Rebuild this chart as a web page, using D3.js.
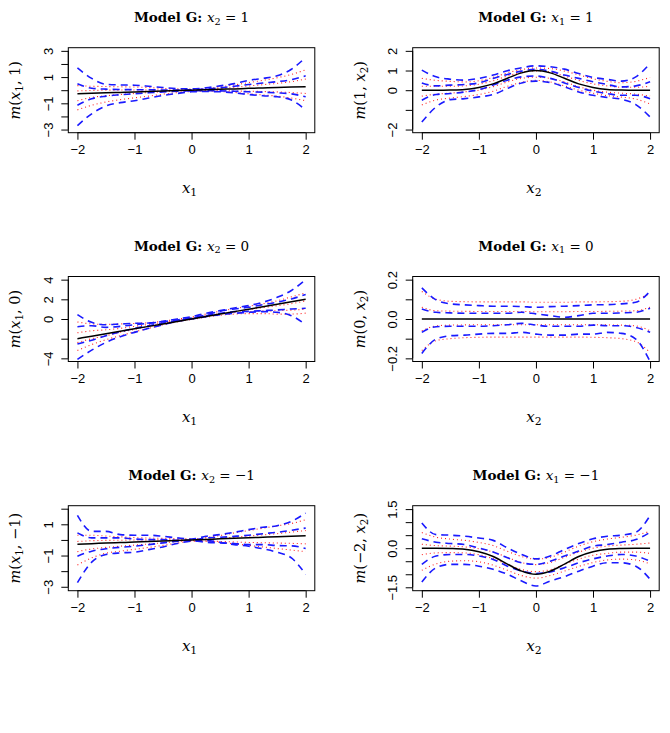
<!DOCTYPE html>
<html>
<head>
<meta charset="utf-8">
<script src="https://cdn.jsdelivr.net/npm/d3@7"></script>
<style>
  body { margin: 0; background: #fff; }
</style>
</head>
<body>
<div id="chart"></div>
<script>
// grid of x positions the curves were read at
var xGrid = [-2, -1.75, -1.5, -1.25, -1, -0.75, -0.5, -0.25, 0, 0.25, 0.5, 0.75, 1, 1.25, 1.5, 1.75, 2];
var xTicks = [-2, -1, 0, 1, 2];
var xTickLabels = ["\u22122", "\u22121", "0", "1", "2"];

// panel 1: x2 = 1
var p1Truth = [-0.27, -0.24, -0.2, -0.17, -0.14, -0.1, -0.07, -0.03, 0, 0.03, 0.07, 0.1, 0.14, 0.17, 0.2, 0.24, 0.27];
var p1Blue = [
  [1.7, 0.9, 0.45, 0.4, 0.38, 0.3, 0.2, 0.12, 0.1, 0.18, 0.33, 0.5, 0.75, 0.9, 1.1, 1.6, 2.5],
  [0.5, 0.15, 0.08, 0.05, 0.04, 0.03, 0.02, 0.02, 0.04, 0.1, 0.18, 0.3, 0.43, 0.55, 0.65, 0.8, 1.1],
  [-1.15, -0.65, -0.45, -0.35, -0.27, -0.2, -0.13, -0.08, -0.05, -0.04, -0.05, -0.08, -0.12, -0.15, -0.2, -0.28, -0.5],
  [-2.7, -1.8, -1.2, -0.95, -0.8, -0.6, -0.4, -0.25, -0.12, -0.1, -0.12, -0.2, -0.33, -0.42, -0.5, -0.75, -1.5]
];
var p1Red = [
  [0.35, 0.3, 0.28, 0.26, 0.24, 0.2, 0.14, 0.1, 0.08, 0.14, 0.25, 0.4, 0.58, 0.75, 0.95, 1.2, 1.55],
  [-0.05, -0.02, 0, 0.01, 0.02, 0.02, 0.02, 0.02, 0.03, 0.07, 0.13, 0.22, 0.32, 0.42, 0.52, 0.65, 0.85],
  [-0.8, -0.55, -0.42, -0.33, -0.25, -0.18, -0.12, -0.07, -0.04, -0.03, -0.04, -0.06, -0.08, -0.1, -0.13, -0.18, -0.25],
  [-1.5, -1.15, -0.9, -0.72, -0.58, -0.45, -0.3, -0.18, -0.1, -0.08, -0.1, -0.17, -0.27, -0.36, -0.45, -0.6, -0.8]
];

// panel 2: x1 = 1
var p2Truth = [0, 0, 0.01, 0.04, 0.14, 0.32, 0.61, 0.88, 1, 0.88, 0.61, 0.32, 0.14, 0.04, 0.01, 0, 0];
var p2Blue = [
  [1.02, 0.68, 0.56, 0.51, 0.6, 0.77, 0.99, 1.14, 1.24, 1.19, 1.07, 0.85, 0.65, 0.55, 0.46, 0.68, 1.36],
  [0.37, 0.22, 0.26, 0.29, 0.37, 0.6, 0.8, 0.97, 1.06, 0.97, 0.77, 0.6, 0.43, 0.29, 0.17, 0.22, 0.43],
  [-0.51, -0.22, -0.17, -0.09, 0.03, 0.26, 0.51, 0.68, 0.72, 0.6, 0.37, 0.14, -0.05, -0.17, -0.26, -0.26, -0.43],
  [-1.62, -0.85, -0.48, -0.43, -0.34, -0.22, 0.09, 0.37, 0.46, 0.39, 0.17, -0.09, -0.26, -0.37, -0.46, -0.73, -1.36]
];
var p2Red = [
  [0.6, 0.5, 0.45, 0.42, 0.48, 0.65, 0.88, 1.05, 1.13, 1.1, 0.97, 0.78, 0.58, 0.45, 0.38, 0.45, 0.65],
  [0.2, 0.2, 0.2, 0.22, 0.3, 0.48, 0.72, 0.9, 0.98, 0.92, 0.72, 0.5, 0.32, 0.22, 0.15, 0.15, 0.2],
  [-0.3, -0.2, -0.15, -0.08, 0, 0.18, 0.42, 0.6, 0.66, 0.6, 0.42, 0.18, 0, -0.1, -0.15, -0.2, -0.3],
  [-0.75, -0.5, -0.4, -0.32, -0.22, -0.05, 0.2, 0.4, 0.5, 0.42, 0.22, 0, -0.15, -0.28, -0.35, -0.45, -0.7]
];

// panel 3: x2 = 0
var p3Truth = [-2, -1.75, -1.5, -1.25, -1, -0.75, -0.5, -0.25, 0, 0.25, 0.5, 0.75, 1, 1.25, 1.5, 1.75, 2];
var p3Blue = [
  [0.44, -0.34, -0.58, -0.51, -0.44, -0.41, -0.24, 0, 0.24, 0.58, 0.85, 1.12, 1.36, 1.7, 2.2, 2.9, 4.0],
  [-0.78, -0.68, -0.85, -0.75, -0.58, -0.44, -0.27, -0.1, 0.1, 0.41, 0.78, 1.02, 1.19, 1.46, 1.7, 2.04, 2.49],
  [-2.55, -2.15, -1.7, -1.3, -0.95, -0.68, -0.41, -0.17, 0.07, 0.34, 0.58, 0.75, 0.78, 0.85, 0.92, 1.02, 1.09],
  [-4.1, -3.17, -2.38, -1.8, -1.36, -0.95, -0.58, -0.24, 0, 0.24, 0.44, 0.58, 0.68, 0.75, 0.68, 0.34, -0.58]
];
var p3Red = [
  [-0.3, -0.5, -0.55, -0.5, -0.45, -0.38, -0.22, -0.02, 0.2, 0.5, 0.8, 1.05, 1.3, 1.55, 1.85, 2.25, 2.65],
  [-1.4, -1.2, -1.1, -0.95, -0.75, -0.55, -0.35, -0.12, 0.08, 0.32, 0.55, 0.75, 0.95, 1.15, 1.35, 1.55, 1.85],
  [-2.4, -2.0, -1.7, -1.35, -1.05, -0.75, -0.45, -0.2, 0, 0.25, 0.48, 0.65, 0.75, 0.8, 0.85, 0.9, 1.0],
  [-3.2, -2.6, -2.1, -1.7, -1.3, -0.95, -0.6, -0.3, -0.05, 0.18, 0.38, 0.5, 0.55, 0.55, 0.5, 0.5, 0.6]
];

// panel 4: x1 = 0
var p4Truth = [0, 0, 0, 0, 0, 0, 0, 0, 0, 0, 0, 0, 0, 0, 0, 0, 0];
var p4Blue = [
  [0.158, 0.097, 0.077, 0.072, 0.068, 0.065, 0.065, 0.063, 0.06, 0.063, 0.065, 0.068, 0.072, 0.073, 0.077, 0.085, 0.141],
  [0.051, 0.034, 0.031, 0.029, 0.029, 0.029, 0.029, 0.034, 0.026, 0.017, 0.009, 0.017, 0.029, 0.029, 0.031, 0.034, 0.055],
  [-0.068, -0.039, -0.037, -0.037, -0.037, -0.034, -0.029, -0.022, -0.031, -0.037, -0.037, -0.037, -0.031, -0.034, -0.034, -0.043, -0.068],
  [-0.175, -0.102, -0.085, -0.082, -0.077, -0.073, -0.073, -0.068, -0.077, -0.082, -0.082, -0.077, -0.077, -0.068, -0.073, -0.102, -0.216]
];
var p4Red = [
  [0.14, 0.1, 0.09, 0.088, 0.087, 0.087, 0.087, 0.087, 0.085, 0.085, 0.085, 0.087, 0.087, 0.088, 0.09, 0.1, 0.13],
  [0.06, 0.042, 0.04, 0.039, 0.038, 0.038, 0.038, 0.038, 0.037, 0.037, 0.037, 0.038, 0.038, 0.039, 0.04, 0.042, 0.06],
  [-0.06, -0.035, -0.031, -0.03, -0.029, -0.029, -0.029, -0.029, -0.029, -0.029, -0.029, -0.029, -0.029, -0.03, -0.031, -0.035, -0.06],
  [-0.16, -0.11, -0.1, -0.095, -0.093, -0.092, -0.092, -0.092, -0.092, -0.092, -0.092, -0.092, -0.093, -0.095, -0.1, -0.115, -0.17]
];

// panel 5: x2 = -1
var p5Truth = [-0.27, -0.24, -0.2, -0.17, -0.14, -0.1, -0.07, -0.03, 0, 0.03, 0.07, 0.1, 0.14, 0.17, 0.2, 0.24, 0.27];
var p5Blue = [
  [1.57, 0.55, 0.55, 0.34, 0.3, 0.3, 0.23, 0.13, 0.06, 0.23, 0.34, 0.49, 0.66, 0.81, 0.91, 1.19, 1.72],
  [0.45, 0.13, 0.13, 0.13, 0.06, 0.02, 0.02, -0.02, -0.02, 0.13, 0.17, 0.23, 0.3, 0.4, 0.49, 0.62, 0.76],
  [-1.04, -0.72, -0.57, -0.47, -0.4, -0.3, -0.19, -0.08, -0.04, -0.15, -0.19, -0.23, -0.3, -0.3, -0.36, -0.38, -0.55],
  [-2.74, -1.42, -0.93, -0.83, -0.79, -0.62, -0.45, -0.23, -0.08, -0.04, -0.15, -0.3, -0.4, -0.57, -0.79, -1.15, -2.2]
];
var p5Red = [
  [0.3, 0.3, 0.25, 0.2, 0.15, 0.12, 0.1, 0.08, 0.07, 0.15, 0.28, 0.45, 0.6, 0.75, 0.9, 1.05, 1.3],
  [-0.1, -0.05, -0.03, -0.02, 0, 0, 0, 0, 0, 0.05, 0.1, 0.17, 0.25, 0.32, 0.4, 0.5, 0.6],
  [-0.75, -0.58, -0.48, -0.4, -0.33, -0.26, -0.18, -0.1, -0.05, -0.07, -0.1, -0.13, -0.16, -0.18, -0.2, -0.22, -0.25],
  [-1.6, -1.15, -0.85, -0.72, -0.6, -0.48, -0.35, -0.2, -0.08, -0.08, -0.15, -0.25, -0.35, -0.45, -0.55, -0.65, -0.75]
];

// panel 6: x1 = -1
var p6Truth = [0, 0, -0.01, -0.04, -0.14, -0.32, -0.61, -0.88, -1, -0.88, -0.61, -0.32, -0.14, -0.04, -0.01, 0, 0];
var p6Blue = [
  [0.97, 0.52, 0.5, 0.46, 0.39, 0.3, 0.01, -0.24, -0.41, -0.3, -0.05, 0.18, 0.36, 0.46, 0.5, 0.61, 1.25],
  [0.36, 0.23, 0.18, 0.14, 0.01, -0.15, -0.37, -0.56, -0.62, -0.5, -0.3, -0.11, 0.08, 0.14, 0.23, 0.33, 0.61],
  [-0.62, -0.3, -0.24, -0.24, -0.3, -0.43, -0.69, -0.88, -0.97, -0.91, -0.75, -0.56, -0.41, -0.3, -0.24, -0.3, -0.5],
  [-1.3, -0.75, -0.62, -0.62, -0.69, -0.81, -1.0, -1.26, -1.45, -1.26, -1.09, -0.88, -0.69, -0.56, -0.56, -0.69, -1.19]
];
var p6Red = [
  [0.6, 0.42, 0.35, 0.3, 0.22, 0.1, -0.12, -0.32, -0.42, -0.35, -0.15, 0.08, 0.25, 0.35, 0.42, 0.5, 0.65],
  [0.15, 0.1, 0.08, 0.05, -0.02, -0.15, -0.35, -0.55, -0.63, -0.55, -0.35, -0.15, 0, 0.08, 0.12, 0.15, 0.2],
  [-0.25, -0.18, -0.17, -0.18, -0.25, -0.4, -0.62, -0.82, -0.9, -0.82, -0.62, -0.42, -0.27, -0.2, -0.15, -0.15, -0.2],
  [-0.85, -0.6, -0.5, -0.48, -0.52, -0.65, -0.85, -1.05, -1.15, -1.05, -0.88, -0.7, -0.55, -0.45, -0.42, -0.45, -0.6]
];

// y ranges of the data and the axis ticks
var yRanges = [[-3, 3], [-2, 2], [-4, 4], [-0.2, 0.2], [-3.05, 1.99], [-1.51, 1.51]];
var yTicks = [
  [-3, -2, -1, 0, 1, 2, 3],
  [-2, -1, 0, 1, 2],
  [-4, -2, 0, 2, 4],
  [-0.2, -0.1, 0, 0.1, 0.2],
  [-3, -2, -1, 0, 1, 2],
  [-1.5, -1, -0.5, 0, 0.5, 1, 1.5]
];
var yTickLabels = [
  ["\u22123", "", "\u22121", "", "1", "", "3"],
  ["\u22122", "", "0", "1", "2"],
  ["\u22124", "", "0", "2", "4"],
  ["\u22120.2", "", "0.0", "", "0.2"],
  ["\u22123", "", "\u22121", "", "1", ""],
  ["\u22121.5", "", "", "0.0", "", "", "1.5"]
];

// text pieces: [text, kind]  kind: "b" bold, "i" italic, "s" subscript, "" plain
var titles = [
  [["Model G: ", "b"], ["x", "i"], ["2", "s"], [" = 1", ""]],
  [["Model G: ", "b"], ["x", "i"], ["1", "s"], [" = 1", ""]],
  [["Model G: ", "b"], ["x", "i"], ["2", "s"], [" = 0", ""]],
  [["Model G: ", "b"], ["x", "i"], ["1", "s"], [" = 0", ""]],
  [["Model G: ", "b"], ["x", "i"], ["2", "s"], [" = \u22121", ""]],
  [["Model G: ", "b"], ["x", "i"], ["1", "s"], [" = \u22121", ""]]
];
var yTitles = [
  [["m", "i"], ["(", ""], ["x", "i"], ["1", "s"], [", 1)", ""]],
  [["m", "i"], ["(1, ", ""], ["x", "i"], ["2", "s"], [")", ""]],
  [["m", "i"], ["(", ""], ["x", "i"], ["1", "s"], [", 0)", ""]],
  [["m", "i"], ["(0, ", ""], ["x", "i"], ["2", "s"], [")", ""]],
  [["m", "i"], ["(", ""], ["x", "i"], ["1", "s"], [", \u22121)", ""]],
  [["m", "i"], ["(\u22122, ", ""], ["x", "i"], ["2", "s"], [")", ""]]
];
var xTitles = [
  [["x", "i"], ["1", "s"]], [["x", "i"], ["2", "s"]],
  [["x", "i"], ["1", "s"]], [["x", "i"], ["2", "s"]],
  [["x", "i"], ["1", "s"]], [["x", "i"], ["2", "s"]]
];

var truths = [p1Truth, p2Truth, p3Truth, p4Truth, p5Truth, p6Truth];
var blues = [p1Blue, p2Blue, p3Blue, p4Blue, p5Blue, p6Blue];
var reds = [p1Red, p2Red, p3Red, p4Red, p5Red, p6Red];

(function () {
    var W = 670, H = 733;
    var colLeft = [68.3, 412.7];
    var rowTop = [47.7, 276.5, 505.7];
    var pw = 246.5, ph = 85;
    var serif = "'DejaVu Serif', serif";
    var sans = "'Liberation Sans', Arial, sans-serif";

    var svg = d3.select("#chart").append("svg")
        .attr("width", W)
        .attr("height", H)
        .style("background", "#fff");

    // R style 4% padding on both ends
    function pad(r) {
        var d = (r[1] - r[0]) * 0.04;
        return [r[0] - d, r[1] + d];
    }

    function mathText(sel, parts) {
        var wasSub = false;
        parts.forEach(function (p) {
            var t = sel.append("tspan").text(p[0]);
            if (p[1] === "b") { t.attr("font-weight", "bold"); }
            if (p[1] === "i") { t.attr("font-style", "italic"); }
            if (p[1] === "s") {
                t.attr("font-size", "0.72em").attr("dy", "0.3em");
                wasSub = true;
            } else if (wasSub) {
                t.attr("dy", "-0.216em");
                wasSub = false;
            }
        });
    }

    for (var k = 0; k < 6; k++) {
        var ox = colLeft[k % 2], oy = rowTop[Math.floor(k / 2)];
        var g = svg.append("g").attr("transform", "translate(" + ox + "," + oy + ")");

        var x = d3.scaleLinear().domain(pad([-2, 2])).range([0, pw]);
        var y = d3.scaleLinear().domain(pad(yRanges[k])).range([ph, 0]);

        g.append("clipPath").attr("id", "clip" + k)
            .append("rect").attr("width", pw).attr("height", ph);

        var line = d3.line()
            .x(function (d, i) { return x(xGrid[i]); })
            .y(function (d) { return y(d); })
            .curve(d3.curveMonotoneX);

        var plot = g.append("g").attr("clip-path", "url(#clip" + k + ")");

        plot.selectAll("path.red")
            .data(reds[k])
            .enter()
            .append("path")
            .attr("class", "red")
            .attr("d", line)
            .attr("fill", "none")
            .attr("stroke", "#ff2020")
            .attr("stroke-width", 1.1)
            .attr("stroke-dasharray", "1,3");

        plot.selectAll("path.blue")
            .data(blues[k])
            .enter()
            .append("path")
            .attr("class", "blue")
            .attr("d", line)
            .attr("fill", "none")
            .attr("stroke", "#1a1aff")
            .attr("stroke-width", 1.6)
            .attr("stroke-dasharray", "7,5");

        plot.append("path")
            .datum(truths[k])
            .attr("d", line)
            .attr("fill", "none")
            .attr("stroke", "#000")
            .attr("stroke-width", 1.5);

        g.append("rect")
            .attr("width", pw).attr("height", ph)
            .attr("fill", "none").attr("stroke", "#000").attr("stroke-width", 1);

        // x axis
        var xa = g.append("g")
            .attr("transform", "translate(0," + ph + ")")
            .call(d3.axisBottom(x).tickValues(xTicks).tickSize(7).tickPadding(5)
                .tickFormat(function (d, i) { return xTickLabels[i]; }));
        xa.select(".domain").attr("d", "M" + x(-2) + ",0H" + x(2));
        xa.selectAll("text").attr("font-family", sans).attr("font-size", 13).attr("fill", "#000");

        // y axis, labels turned like R
        var kk = k;
        var ya = g.append("g")
            .call(d3.axisLeft(y).tickValues(yTicks[k]).tickSize(7)
                .tickFormat(function (d, i) { return yTickLabels[kk][i]; }));
        var yt = yTicks[k];
        ya.select(".domain").attr("d", "M0," + y(yt[0]) + "V" + y(yt[yt.length - 1]));
        ya.selectAll("text")
            .attr("font-family", sans).attr("font-size", 13).attr("fill", "#000")
            .attr("x", 0).attr("dy", 0)
            .attr("text-anchor", "middle")
            .attr("transform", "translate(-15.6,0) rotate(-90)");

        // titles
        var tt = g.append("text")
            .attr("x", pw / 2).attr("y", -26)
            .attr("text-anchor", "middle")
            .attr("font-family", serif).attr("font-size", 13.5);
        mathText(tt, titles[k]);

        var xt = g.append("text")
            .attr("x", pw / 2 - 2).attr("y", ph + 60)
            .attr("text-anchor", "middle")
            .attr("font-family", serif).attr("font-size", 15);
        mathText(xt, xTitles[k]);

        var ytl = g.append("text")
            .attr("text-anchor", "middle")
            .attr("transform", "translate(-48," + (ph / 2) + ") rotate(-90)")
            .attr("font-family", serif).attr("font-size", 14.5);
        mathText(ytl, yTitles[k]);
    }
})();
</script>
</body>
</html>
